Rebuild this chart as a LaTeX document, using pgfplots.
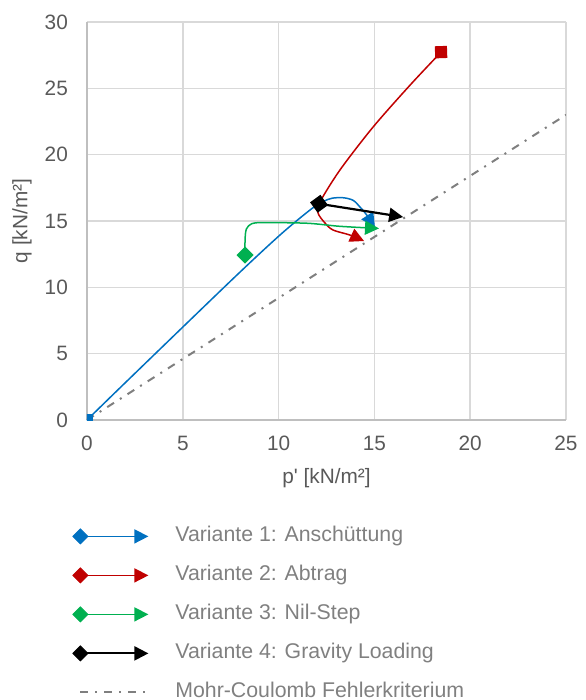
\documentclass[border=0pt]{standalone}
\usepackage{pgfplots}
\pgfplotsset{compat=1.18}
\usetikzlibrary{arrows.meta}
\usepackage{fontspec}
\setmainfont{Liberation Sans}
\definecolor{cblue}{HTML}{0070C0}
\definecolor{cred}{HTML}{C00000}
\definecolor{cgreen}{HTML}{00B050}
\definecolor{cmc}{HTML}{7F7F7F}
\definecolor{cgrid}{HTML}{D9D9D9}
\definecolor{caxis}{HTML}{BFBFBF}
\definecolor{ctick}{HTML}{595959}
\definecolor{clegend}{HTML}{808080}
\newcommand{\fs}{\fontsize{10.4bp}{12bp}\selectfont}
\newcommand{\fl}{\fontsize{10.65bp}{12bp}\selectfont}
\begin{document}
\begin{tikzpicture}
\useasboundingbox (-43.5bp,-140bp) rectangle (249.5bp,210bp);
\begin{axis}[
  at={(0,0)}, anchor=south west,
  scale only axis, width=239.5bp, height=199bp,
  xmin=0, xmax=25, ymin=0, ymax=30,
  xtick={0,5,...,25}, ytick={0,5,...,30},
  axis lines=left, axis line style={-, color=caxis, line width=0.75bp},
  grid=major, major grid style={color=cgrid, line width=0.75bp},
  major tick length=0pt, tick style={draw=none},
  clip marker paths=true,
  /pgf/number format/assume math mode=true,
  ticklabel style={font=\fs, text=ctick},
  xticklabel style={anchor=north, yshift=-4.35bp},
  yticklabel style={anchor=east, xshift=-6.05bp},
  xlabel={p\textquotesingle\ [kN/m²]}, ylabel={q [kN/m²]},
  every axis x label/.style={at={(axis description cs:0.5,0)}, anchor=center, yshift=-29bp, font=\fs, text=ctick},
  every axis y label/.style={at={(axis description cs:-0.1357,0.5)}, rotate=90, anchor=center, font=\fs, text=ctick},
  legend style={at={(axis description cs:-0.0303,-0.2673)}, anchor=north west, draw=none, fill=none,
    inner sep=0pt, outer sep=0pt, font=\fl, text=clegend, row sep=9.5bp, column sep=0pt,
    nodes={inner sep=0pt, text height=7.5bp, text depth=2.5bp}},
  legend cell align=left,
]
% Mohr-Coulomb failure line
\addplot[forget plot, cmc, line width=1bp, dash pattern=on 4bp off 3.5bp on 1bp off 3.5bp] coordinates {(0,0) (25,23)};
% Variante 1
\addplot[forget plot, cblue, line width=0.75bp, smooth, tension=0.5, -{Triangle[length=7bp,width=7bp]},
  mark=square*, mark indices={1}, mark size=2.65bp, mark options={solid, rotate=0, fill=cblue, draw=none}]
  coordinates {(0,0) (2.14,3.01) (7.55,10.55) (10.07,13.94) (11.64,15.83) (12.3,16.45) (12.8,16.72) (13.4,16.75) (13.9,16.55) (14.25,16.05) (14.6,15.45) (15.03,14.54)};
% Variante 2
\addplot[forget plot, cred, line width=0.75bp, smooth, tension=0.5, -{Triangle[length=7bp,width=7bp]},
  mark=square*, mark indices={1}, mark size=2.65bp, mark options={solid, rotate=2, fill=cred, draw=none}]
  coordinates {(18.48,27.73) (16.86,25.24) (14.93,22.08) (13.2,18.84) (12.16,16.43) (12.06,15.6) (12.42,14.85) (12.84,14.32) (13.73,13.94) (14.46,13.49)};
% Variante 3
\addplot[forget plot, cgreen, line width=0.75bp, smooth, tension=0.5, -{Triangle[length=7bp,width=7bp]},
  mark=square*, mark indices={1}, mark size=2.65bp, mark options={solid, rotate=45, fill=cgreen, draw=none}]
  coordinates {(8.25,12.43) (8.25,13.6) (8.32,14.4) (8.6,14.8) (9.2,14.88) (11.5,14.83) (13.2,14.6) (15.24,14.44)};
% Variante 4
\addplot[forget plot, black, line width=1.1bp, -{Triangle[length=7bp,width=7bp]},
  mark=square*, mark indices={1}, mark size=2.65bp, mark options={solid, rotate=36, fill=black, draw=none}]
  coordinates {(12.11,16.3) (16.5,15.3)};
% Legend
\addlegendimage{legend image code/.code={
  \draw[cblue, line width=0.75bp, -{Triangle[length=7bp,width=7bp]}] (0bp,0bp) -- (34bp,0bp);
  \fill[cblue] (-3.75bp,0bp) -- (0bp,3.75bp) -- (3.75bp,0bp) -- (0bp,-3.75bp) -- cycle;
  \path[draw=none] (-3.75bp,0bp) -- (47.5bp,0bp);}}
\addlegendentry{Variante 1: Anschüttung}
\addlegendimage{legend image code/.code={
  \draw[cred, line width=0.75bp, -{Triangle[length=7bp,width=7bp]}] (0bp,0bp) -- (34bp,0bp);
  \fill[cred] (-3.75bp,0bp) -- (0bp,3.75bp) -- (3.75bp,0bp) -- (0bp,-3.75bp) -- cycle;
  \path[draw=none] (-3.75bp,0bp) -- (47.5bp,0bp);}}
\addlegendentry{Variante 2: Abtrag}
\addlegendimage{legend image code/.code={
  \draw[cgreen, line width=0.75bp, -{Triangle[length=7bp,width=7bp]}] (0bp,0bp) -- (34bp,0bp);
  \fill[cgreen] (-3.75bp,0bp) -- (0bp,3.75bp) -- (3.75bp,0bp) -- (0bp,-3.75bp) -- cycle;
  \path[draw=none] (-3.75bp,0bp) -- (47.5bp,0bp);}}
\addlegendentry{Variante 3: Nil-Step}
\addlegendimage{legend image code/.code={
  \draw[black, line width=1.1bp, -{Triangle[length=7bp,width=7bp]}] (0bp,0bp) -- (34bp,0bp);
  \fill[black] (-3.75bp,0bp) -- (0bp,3.75bp) -- (3.75bp,0bp) -- (0bp,-3.75bp) -- cycle;
  \path[draw=none] (-3.75bp,0bp) -- (47.5bp,0bp);}}
\addlegendentry{Variante 4: Gravity Loading}
\addlegendimage{legend image code/.code={
  \draw[cmc, line width=1bp, dash pattern=on 4bp off 3.5bp on 1bp off 3.5bp] (0bp,0bp) -- (34bp,0bp);
  \path[draw=none] (-3.75bp,0bp) -- (47.5bp,0bp);}}
\addlegendentry{Mohr-Coulomb Fehlerkriterium}
\end{axis}
\end{tikzpicture}
\end{document}
